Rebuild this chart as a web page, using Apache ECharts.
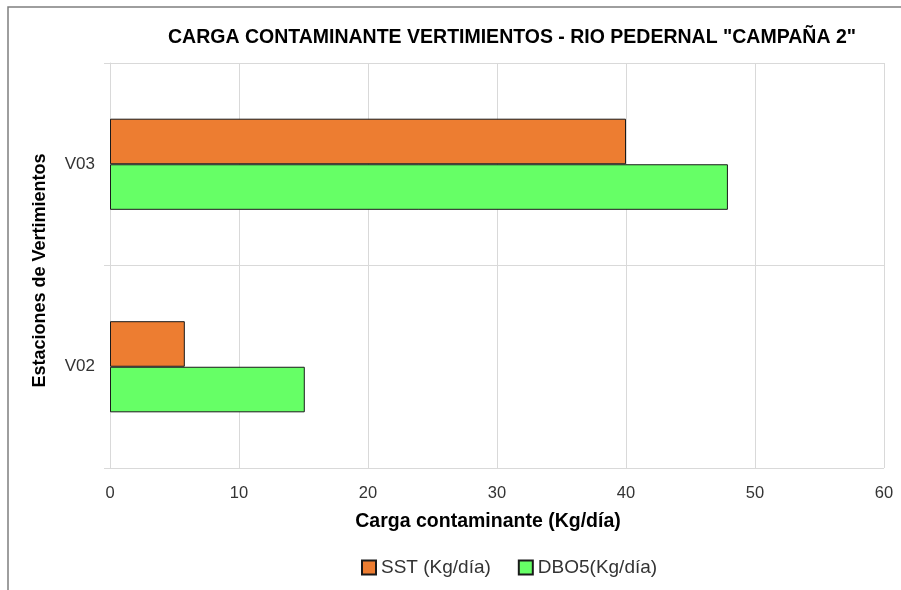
<!DOCTYPE html>
<html>
<head>
<meta charset="utf-8">
<script src="https://cdn.jsdelivr.net/npm/echarts@6/dist/echarts.min.js"></script>
<style>
  html, body { margin: 0; padding: 0; background: #fff; }
  #main { width: 901px; height: 590px; }
</style>
</head>
<body>
<div id="main"></div>
<script>
// datos
var estaciones = ['V02', 'V03'];
var sst = [5.8, 40.0];
var dbo5 = [15.1, 47.9];
var nombresSeries = ['SST (Kg/día)', 'DBO5(Kg/día)'];

var myChart = echarts.init(document.getElementById('main'));
var fuente = 'Liberation Sans, Arial, sans-serif';

var option = {
    animation: false,
    title: {
        text: 'CARGA CONTAMINANTE VERTIMIENTOS - RIO PEDERNAL "CAMPAÑA 2"',
        left: 507,
        textAlign: 'center',
        top: 23,
        textStyle: { fontFamily: fuente, fontSize: 19.5, fontWeight: 'bold', color: '#000' }
    },
    graphic: [{
        type: 'rect',
        shape: { x: 8, y: 7, width: 1000, height: 1000 },
        style: { fill: 'none', stroke: '#7f7f7f', lineWidth: 1.5 },
        silent: true
    }],
    legend: {
        top: 553,
        left: 356,
        itemWidth: 14,
        itemHeight: 14,
        itemGap: 27,
        icon: 'rect',
        textStyle: { fontFamily: fuente, fontSize: 19, color: '#333' },
        data: nombresSeries
    },
    grid: { left: 110, right: 17, top: 63, bottom: 122 },
    xAxis: {
        type: 'value',
        min: 0,
        max: 60,
        interval: 10,
        name: 'Carga contaminante (Kg/día)',
        nameLocation: 'middle',
        nameGap: 44,
        nameTextStyle: { fontFamily: fuente, fontSize: 19.5, fontWeight: 'bold', color: '#000', padding: [0, 18, 0, 0] },
        axisLine: { show: false },
        axisTick: { show: false },
        axisLabel: { fontFamily: fuente, fontSize: 16.5, color: '#333', margin: 17 },
        splitLine: { show: true, lineStyle: { color: '#d9d9d9', width: 1 } }
    },
    yAxis: {
        type: 'category',
        data: estaciones,
        name: 'Estaciones de Vertimientos',
        nameLocation: 'middle',
        nameGap: 61,
        nameRotate: 90,
        nameTextStyle: { fontFamily: fuente, fontSize: 18, fontWeight: 'bold', color: '#000', padding: [0, 10, 0, 0] },
        axisLine: { show: true, lineStyle: { color: '#d9d9d9' } },
        axisTick: { show: true, length: 6, lineStyle: { color: '#d9d9d9' } },
        axisLabel: { fontFamily: fuente, fontSize: 17, color: '#333', margin: 15 },
        splitLine: { show: true, lineStyle: { color: '#d9d9d9', width: 1 } }
    },
    series: [
        {
            name: nombresSeries[0],
            type: 'bar',
            data: sst,
            barGap: '0%',
            barCategoryGap: '55%',
            itemStyle: { color: '#ED7D31', borderColor: '#1a1a1a', borderWidth: 1 }
        },
        {
            name: nombresSeries[1],
            type: 'bar',
            data: dbo5,
            barGap: '0%',
            barCategoryGap: '55%',
            itemStyle: { color: '#66FF66', borderColor: '#1a1a1a', borderWidth: 1 }
        }
    ]
};
myChart.setOption(option);
</script>
</body>
</html>
